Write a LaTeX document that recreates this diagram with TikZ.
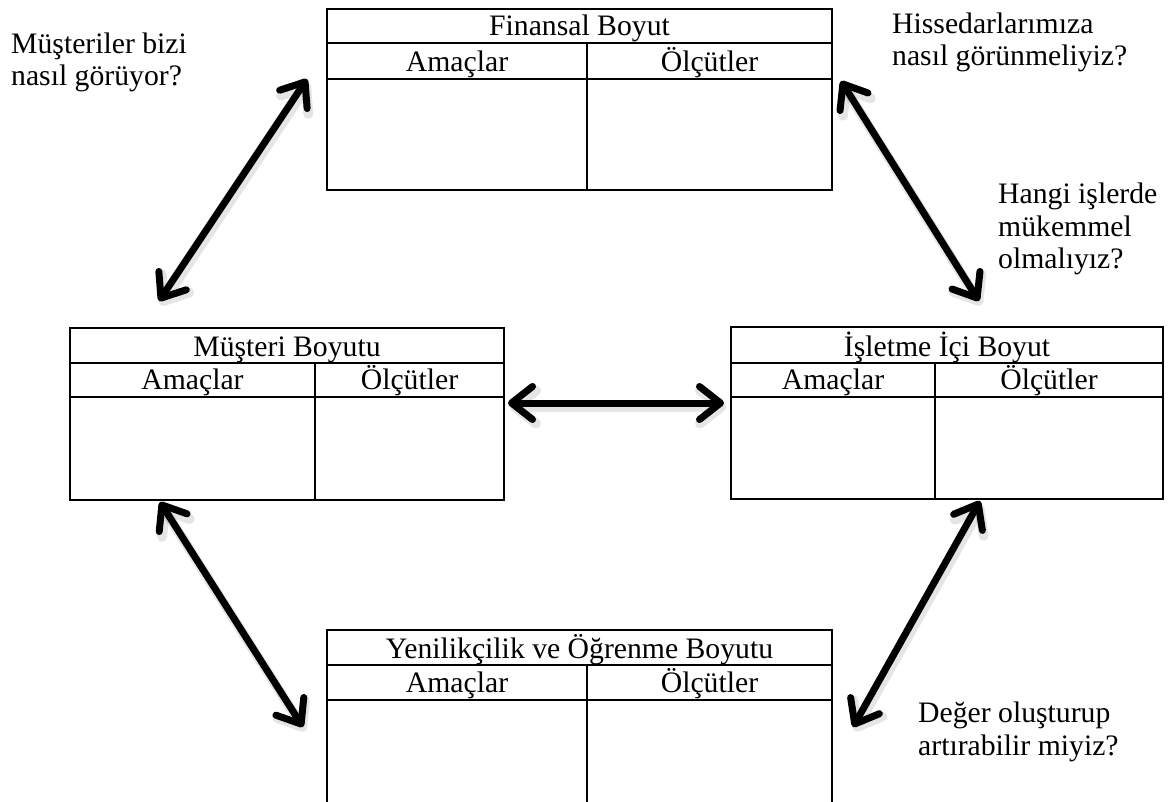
\documentclass[tikz,border=0pt]{standalone}
\usepackage{fontspec}
\setmainfont{Liberation Serif}
\usetikzlibrary{arrows.meta}

\tikzset{
  grid/.style={line width=2.4pt, line cap=rect},
  cell/.style={font=\fontsize{29.7}{32.5}\selectfont, inner sep=0pt, anchor=base},
  % multi-line notes: the base anchor sits on the last line
  note/.style={font=\fontsize{29.7}{32.5}\selectfont, align=left, inner sep=0pt, anchor=base west},
  link/.style={line width=7pt, line cap=round,
    {Straight Barb[length=21pt, width=33pt, round]}-{Straight Barb[length=21pt, width=33pt, round]},
    preaction={draw=black, opacity=0.10, line width=10pt, transform canvas={shift={(2pt,-4pt)}}},
    preaction={draw=black, opacity=0.18, transform canvas={shift={(1.5pt,-3pt)}}}}
}

% one perspective table: frame, title row, header row, two columns
% #1,#2 top-left  #3,#4 bottom-right  #5 column divider  #6,#7 row lines  #8 title  #9 name
\newcommand\perspbox[9]{%
  \draw[grid] (#1,#2) rectangle (#3,#4);
  \draw[grid] (#1,#6) -- (#3,#6) (#1,#7) -- (#3,#7) (#5,#6) -- (#5,#4);
  \node[cell] (#9-t) at ({(#1+#3)/2},#6-7) {#8};
  \node[cell] (#9-a) at ({(#1+#5)/2},#7-7.5) {Amaçlar};
  \node[cell] (#9-o) at ({(#5+#3)/2},#7-7.5) {Ölçütler};
}

\begin{document}
\begin{tikzpicture}[x=1pt, y=-1pt]
  \useasboundingbox (0,0) rectangle (1172,802);
  \clip (0,0) rectangle (1172,802);

  % the four perspectives
  \perspbox{327}{9}{832}{190}{587}{43}{79}{Finansal Boyut}{fin}
  \perspbox{70}{328}{504}{500}{315}{363}{397}{Müşteri Boyutu}{mus}
  \perspbox{731}{327}{1163}{499}{935}{363}{397}{İşletme İçi Boyut}{isl}
  \perspbox{327}{630}{832}{840}{587}{665}{700}{Yenilikçilik ve Öğrenme Boyutu}{yen}

  % guiding questions
  \node[note] (q1) at (11,86) {Müşteriler bizi\\nasıl görüyor?};
  \node[note] (q2) at (892,66) {Hissedarlarımıza\\nasıl görünmeliyiz?};
  \node[note] (q3) at (998,269) {Hangi işlerde\\mükemmel\\olmalıyız?};
  \node[note] (q4) at (918,755) {Değer oluşturup\\artırabilir miyiz?};

  % arrow end points
  \coordinate (a1s) at (159,301);  \coordinate (a1e) at (307,79);
  \coordinate (a2s) at (841,81);   \coordinate (a2e) at (979,301);
  \coordinate (a3s) at (508,403);  \coordinate (a3e) at (724,403);
  \coordinate (a4s) at (160,502);  \coordinate (a4e) at (303,727);
  \coordinate (a5s) at (980,501);  \coordinate (a5e) at (853,727);

  % two-way links between perspectives
  \draw[link] (a1s) -- (a1e);
  \draw[link] (a2s) -- (a2e);
  \draw[link] (a3s) -- (a3e);
  \draw[link] (a4s) -- (a4e);
  \draw[link] (a5s) -- (a5e);
\end{tikzpicture}
\end{document}
